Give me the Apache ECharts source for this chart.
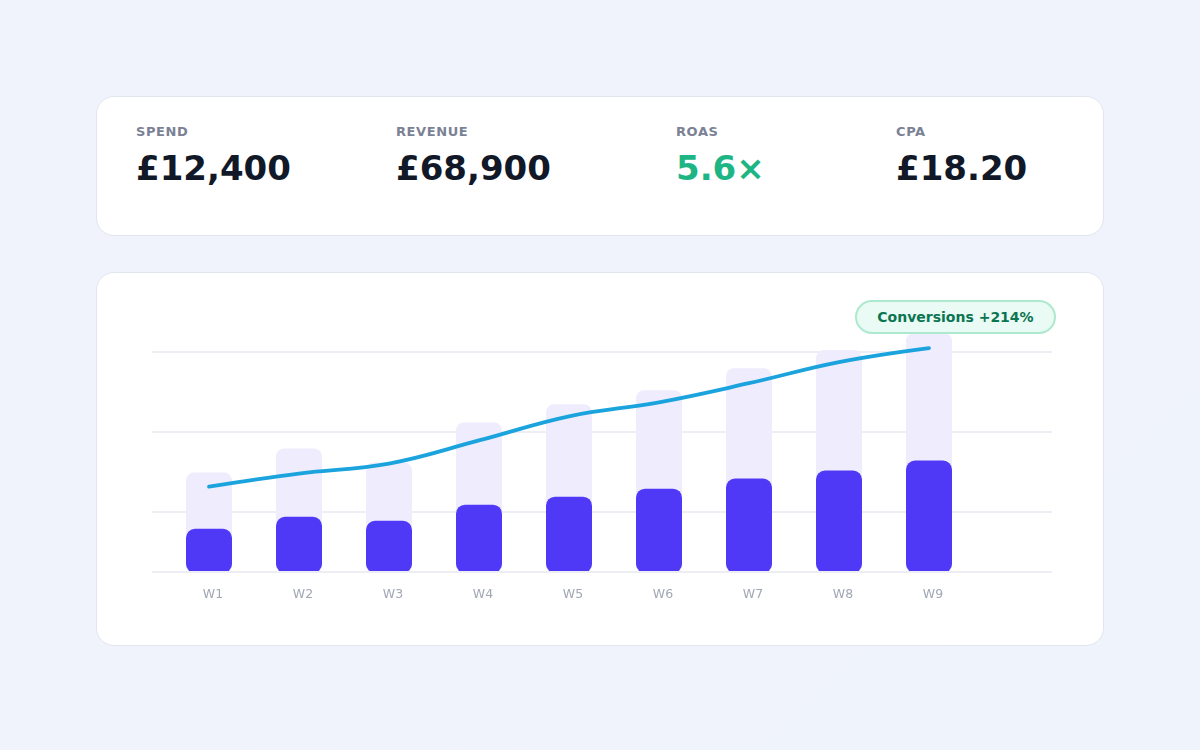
<!DOCTYPE html>
<html>
<head>
<meta charset="utf-8">
<script src="https://cdn.jsdelivr.net/npm/echarts@6/dist/echarts.min.js"></script>
<style>
  html, body {
    margin: 0;
    width: 1200px;
    height: 750px;
    overflow: hidden;
    font-family: "DejaVu Sans", sans-serif;
  }
  body {
    background: linear-gradient(135deg, #f1f3fc 0%, #eff3fb 100%);
    position: relative;
  }
  .card {
    position: absolute;
    left: 96px;
    width: 1006px;
    background: #fff;
    border: 1px solid #e1e5ef;
    border-radius: 18px;
  }
  #kpis { top: 96px; height: 138px; }
  #chartCard { top: 272px; height: 372px; }
  .kpi { position: absolute; top: 27px; }
  .kpi .label {
    font-size: 13px;
    font-weight: bold;
    color: #7b8194;
    letter-spacing: 0.6px;
  }
  .kpi .value {
    margin-top: 9px;
    font-size: 34px;
    font-weight: bold;
    color: #111827;
  }
  .kpi .value.good { color: #1db584; }
  #chart {
    position: absolute;
    left: -1px; top: -1px;
    width: 1006px;
    height: 372px;
  }
  #badge {
    position: absolute;
    left: 758px;
    top: 27px;
    width: 201px;
    height: 34px;
    line-height: 31px;
    text-align: center;
    border: 2px solid #ade9cf;
    background: #e9fbf4;
    border-radius: 18px;
    font-size: 14px;
    font-weight: bold;
    color: #0b7552;
    box-sizing: border-box;
  }
</style>
</head>
<body>
<div id="kpis" class="card"></div>
<div id="chartCard" class="card">
  <div id="chart"></div>
  <div id="badge">Conversions +214%</div>
</div>
<script>
// KPI tiles
var kpiLabels = ['SPEND', 'REVENUE', 'ROAS', 'CPA'];
var kpiValues = ['£12,400', '£68,900', '5.6×', '£18.20'];
var kpiLeft = [39, 299, 579, 799];

// weekly data
var weeks = ['W1', 'W2', 'W3', 'W4', 'W5', 'W6', 'W7', 'W8', 'W9'];
var reach = [50, 62, 55, 75, 84, 91, 102, 111, 119.5];
var spend = [22, 28, 26, 34, 38, 42, 47, 51, 56];
var conversions = [172, 198, 218, 264, 312, 340, 378, 420, 448];

var kpiBox = document.getElementById('kpis');
kpiLabels.forEach(function (label, i) {
  var el = document.createElement('div');
  el.className = 'kpi';
  el.style.left = kpiLeft[i] + 'px';
  el.innerHTML = '<div class="label">' + label + '</div>' +
    '<div class="value' + (i === 2 ? ' good' : '') + '">' + kpiValues[i] + '</div>';
  kpiBox.appendChild(el);
});

var myChart = echarts.init(document.getElementById('chart'));

var gridColor = '#eceef3';

var option = {
  animation: false,
  grid: [
    // background grid lines (wider than the bars)
    { left: 56, top: 80, width: 900, height: 240 },
    // bars + line
    { left: 68, top: 60, width: 810, height: 241 }
  ],
  xAxis: [
    {
      gridIndex: 0,
      type: 'value',
      min: 0,
      max: 1,
      show: false
    },
    {
      gridIndex: 1,
      type: 'category',
      data: weeks,
      axisLine: { show: false },
      axisTick: { show: false },
      axisLabel: {
        color: '#a1a7b5',
        fontSize: 12.5,
        margin: 15,
        padding: [0, 0, 0, 8],
        fontFamily: 'DejaVu Sans'
      }
    }
  ],
  yAxis: [
    {
      gridIndex: 0,
      type: 'value',
      min: 0,
      max: 3,
      interval: 1,
      axisLabel: { show: false },
      axisLine: { show: false },
      axisTick: { show: false },
      splitLine: {
        show: true,
        showMinLine: false,
        lineStyle: { color: gridColor, width: 2 }
      }
    },
    {
      gridIndex: 1,
      type: 'value',
      min: 0,
      max: 120,
      show: false,
      splitLine: { show: false }
    },
    {
      gridIndex: 1,
      type: 'value',
      min: 0,
      max: 480,
      show: false,
      splitLine: { show: false }
    }
  ],
  series: [
    {
      // baseline
      type: 'line',
      xAxisIndex: 0,
      yAxisIndex: 0,
      data: [],
      silent: true,
      markLine: {
        symbol: 'none',
        silent: true,
        label: { show: false },
        lineStyle: { color: gridColor, width: 2, type: 'solid' },
        data: [{ yAxis: 0.25 }]
      }
    },
    {
      name: 'Reach',
      type: 'bar',
      xAxisIndex: 1,
      yAxisIndex: 1,
      data: reach,
      barWidth: 46,
      barGap: '-100%',
      itemStyle: { color: '#eeecfd', borderRadius: 8 },
      z: 2
    },
    {
      name: 'Spend',
      type: 'bar',
      xAxisIndex: 1,
      yAxisIndex: 1,
      data: spend,
      barWidth: 46,
      itemStyle: { color: '#4f39f6', borderRadius: 9 },
      z: 3
    },
    {
      name: 'Conversions',
      type: 'line',
      xAxisIndex: 1,
      yAxisIndex: 2,
      data: conversions,
      smooth: 0.4,
      showSymbol: false,
      lineStyle: { color: '#1aa3dd', width: 3.8, cap: 'round' },
      z: 5
    }
  ]
};

myChart.setOption(option);
</script>
</body>
</html>
